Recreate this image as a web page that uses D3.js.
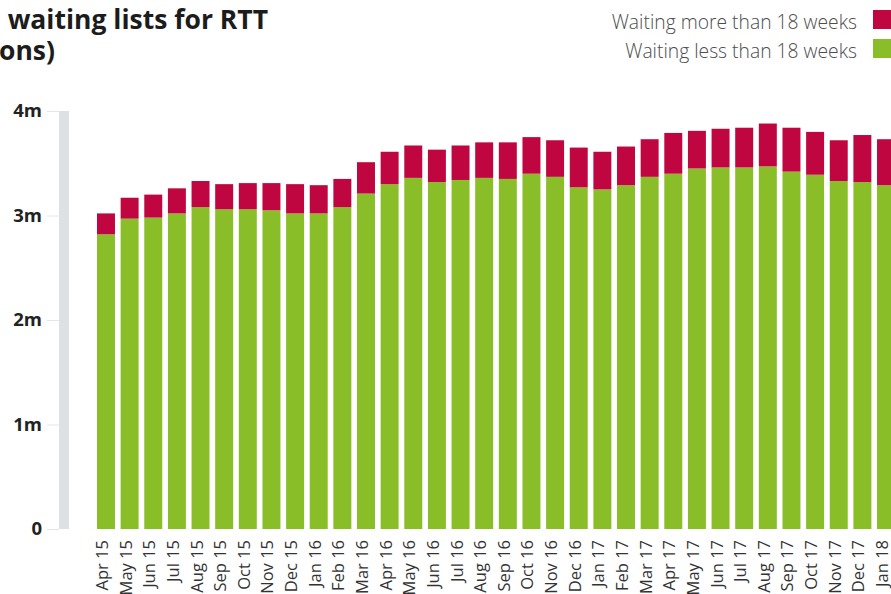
<!DOCTYPE html>
<html>
<head>
<meta charset="UTF-8">
<title>Waiting lists for RTT</title>
<script src="https://cdn.jsdelivr.net/npm/d3@7"></script>
<style>
  body { margin: 0; background: #fff; }
  svg { display: block; font-family: "Open Sans", sans-serif; }
</style>
</head>
<body>
<svg id="chart" width="891" height="594"></svg>
<script>
// months shown on the x axis
var months = ["Apr 15", "May 15", "Jun 15", "Jul 15", "Aug 15", "Sep 15", "Oct 15", "Nov 15",
  "Dec 15", "Jan 16", "Feb 16", "Mar 16", "Apr 16", "May 16", "Jun 16", "Jul 16", "Aug 16",
  "Sep 16", "Oct 16", "Nov 16", "Dec 16", "Jan 17", "Feb 17", "Mar 17", "Apr 17", "May 17",
  "Jun 17", "Jul 17", "Aug 17", "Sep 17", "Oct 17", "Nov 17", "Dec 17", "Jan 18"];

// millions of patients
var under18 = [2.82, 2.97, 2.98, 3.02, 3.08, 3.06, 3.06, 3.05, 3.02, 3.02, 3.08, 3.21,
  3.30, 3.36, 3.32, 3.34, 3.36, 3.35, 3.40, 3.37, 3.27, 3.25, 3.29, 3.37,
  3.40, 3.45, 3.46, 3.46, 3.47, 3.42, 3.39, 3.33, 3.32, 3.29];
var over18 = [0.20, 0.20, 0.22, 0.24, 0.25, 0.24, 0.25, 0.26, 0.28, 0.27, 0.27, 0.30,
  0.31, 0.31, 0.31, 0.33, 0.34, 0.35, 0.35, 0.35, 0.38, 0.36, 0.37, 0.36,
  0.39, 0.36, 0.37, 0.38, 0.41, 0.42, 0.41, 0.39, 0.45, 0.44];

var yTicks = [0, 1, 2, 3, 4];
var yTickLabels = ["0", "1m", "2m", "3m", "4m"];
var legendLabels = ["Waiting more than 18 weeks", "Waiting less than 18 weeks"];
var titleLines = ["Patients on waiting lists for RTT", "(millions)"];

var colours = { under: "#89be28", over: "#bf0641" };

var svg = d3.select("#chart");

var table = months.map(function (m, i) {
  return { month: m, under: under18[i], over: over18[i] };
});

var x = d3.scaleBand()
  .domain(months)
  .range([97, 895])
  .paddingInner(0.24)
  .paddingOuter(0);

var y = d3.scaleLinear()
  .domain([0, 4])
  .range([529, 111]);

// title (left part runs off the picture, as in the source)
svg.append("g")
  .selectAll("text")
  .data(titleLines)
  .join("text")
  .attr("x", function (d, i) { return i ? 55 : 268; })
  .attr("y", function (d, i) { return 29 + i * 31; })
  .attr("text-anchor", "end")
  .attr("fill", "#1c1c1c")
  .style("font-size", "26.5px")
  .style("font-weight", "700")
  .text(function (d) { return d; });

// legend
var legend = svg.append("g")
  .selectAll("g")
  .data(legendLabels)
  .join("g")
  .attr("transform", function (d, i) { return "translate(0," + (29 + i * 29) + ")"; });

legend.append("text")
  .attr("x", 857)
  .attr("text-anchor", "end")
  .attr("fill", "#4d4d4d")
  .style("font-size", "19.3px")
  .style("font-weight", "300")
  .text(function (d) { return d; });

legend.append("rect")
  .attr("x", 873)
  .attr("y", -19)
  .attr("width", 20)
  .attr("height", 19)
  .attr("fill", function (d, i) { return i ? colours.under : colours.over; });

// y axis: thick grey rail plus short ticks
svg.append("rect")
  .attr("x", 59)
  .attr("y", y(4))
  .attr("width", 10)
  .attr("height", y(0) - y(4))
  .attr("fill", "#dde1e4");

var yAxis = svg.append("g")
  .attr("transform", "translate(59,0)")
  .call(d3.axisLeft(y)
    .tickValues(yTicks)
    .tickSize(12)
    .tickPadding(5)
    .tickFormat(function (d, i) { return yTickLabels[i]; }));

yAxis.select(".domain").remove();
yAxis.selectAll(".tick line").attr("stroke", "#e4e6e8");
yAxis.selectAll(".tick text")
  .attr("fill", "#222")
  .style("font-family", "'Open Sans', sans-serif")
  .style("font-size", "18.5px")
  .style("font-weight", "700");

// stacked bars
var stacked = d3.stack().keys(["under", "over"])(table);

svg.append("g")
  .selectAll("g")
  .data(stacked)
  .join("g")
  .attr("fill", function (s) { return colours[s.key]; })
  .selectAll("rect")
  .data(function (s) { return s; })
  .join("rect")
  .attr("x", function (d) { return x(d.data.month); })
  .attr("y", function (d) { return y(d[1]); })
  .attr("width", x.bandwidth())
  .attr("height", function (d) { return y(d[0]) - y(d[1]); });

// x axis labels, rotated
var xAxis = svg.append("g")
  .attr("transform", "translate(0," + y(0) + ")")
  .call(d3.axisBottom(x).tickSize(0));

xAxis.select(".domain").remove();
xAxis.selectAll(".tick text")
  .attr("transform", "rotate(-90)")
  .attr("x", -11)
  .attr("y", 2)
  .attr("dy", 0)
  .attr("text-anchor", "end")
  .attr("fill", "#333")
  .style("font-family", "'Open Sans', sans-serif")
  .style("font-size", "16.5px");
</script>
</body>
</html>
